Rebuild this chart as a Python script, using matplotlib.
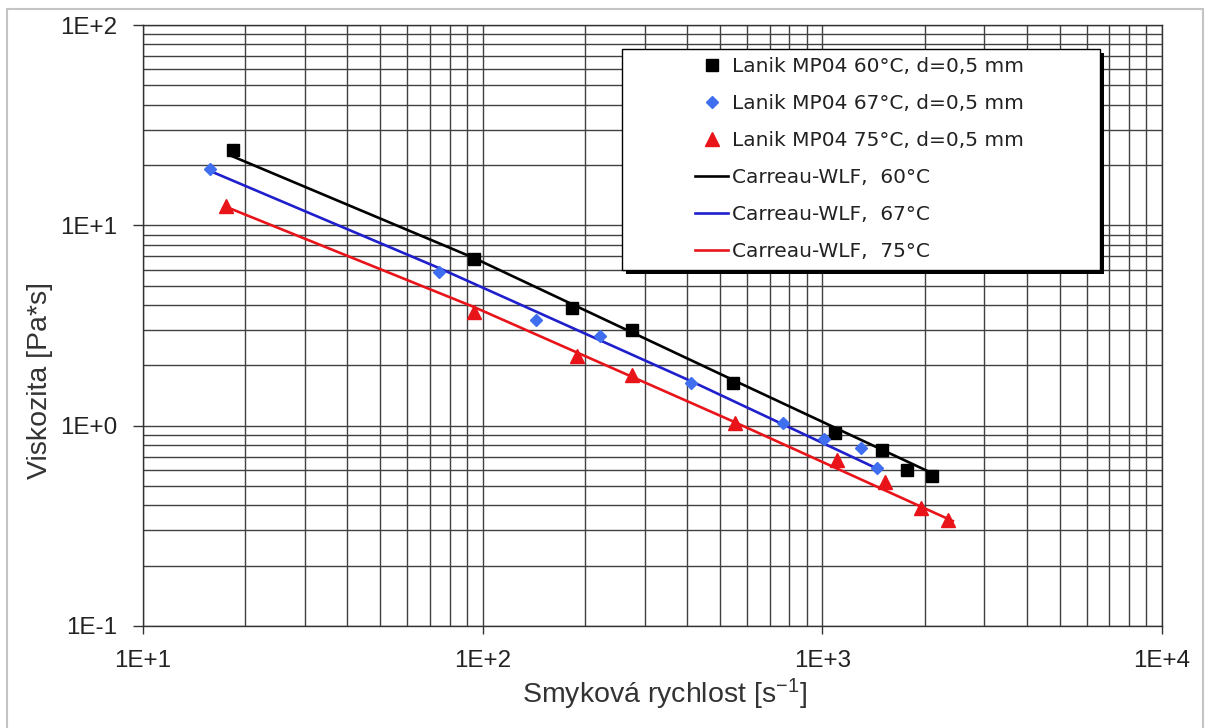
import numpy as np
import matplotlib
matplotlib.use("Agg")
import matplotlib.pyplot as plt
from matplotlib.ticker import LogLocator, FuncFormatter, NullFormatter
from matplotlib.patches import Rectangle

# measured points: shear rate [1/s], viscosity [Pa*s]
shear_60 = [18.4, 94.3, 183, 275, 546, 1089, 1498, 1774, 2102]
visc_60 = [23.8, 6.79, 3.87, 3.00, 1.63, 0.919, 0.755, 0.600, 0.560]

shear_67 = [15.8, 74.4, 144, 221, 410, 764, 1011, 1300, 1445]
visc_67 = [19.0, 5.87, 3.35, 2.80, 1.63, 1.03, 0.857, 0.771, 0.612]

shear_75 = [17.6, 94.2, 189, 276, 554, 1102, 1528, 1946, 2349]
visc_75 = [12.5, 3.71, 2.23, 1.80, 1.03, 0.673, 0.525, 0.386, 0.340]

# Carreau-WLF fit curves
fit_shear_60 = [18.0, 94.3, 546, 2074]
fit_visc_60 = [22.4, 6.87, 1.69, 0.586]
fit_shear_67 = [15.5, 74.4, 410, 1445]
fit_visc_67 = [18.9, 6.12, 1.67, 0.612]
fit_shear_75 = [17.7, 94.3, 553, 2421]
fit_visc_75 = [12.3, 3.91, 1.04, 0.334]

labels_meas = ["Lanik MP04 60°C, d=0,5 mm",
               "Lanik MP04 67°C, d=0,5 mm",
               "Lanik MP04 75°C, d=0,5 mm"]
labels_fit = ["Carreau-WLF,  60°C",
              "Carreau-WLF,  67°C",
              "Carreau-WLF,  75°C"]

plt.rcParams["font.family"] = ["Liberation Sans", "DejaVu Sans"]
plt.rcParams["mathtext.default"] = "regular"

W, H = 1206, 728
fig = plt.figure(figsize=(W / 100, H / 100), dpi=100)
ax = fig.add_axes([143 / W, 1 - 626 / H, (1162 - 143) / W, (626 - 25) / H])

ax.set_xscale("log")
ax.set_yscale("log")
ax.set_xlim(10, 1e4)
ax.set_ylim(0.1, 100)

ax.xaxis.set_major_locator(LogLocator(base=10, numticks=10))
ax.yaxis.set_major_locator(LogLocator(base=10, numticks=10))
ax.xaxis.set_minor_locator(LogLocator(base=10, subs=np.arange(2, 10), numticks=50))
ax.yaxis.set_minor_locator(LogLocator(base=10, subs=np.arange(2, 10), numticks=50))
fmt = FuncFormatter(lambda v, p: f"1E{int(round(np.log10(v))):+d}")
ax.xaxis.set_major_formatter(fmt)
ax.yaxis.set_major_formatter(fmt)
ax.xaxis.set_minor_formatter(NullFormatter())
ax.yaxis.set_minor_formatter(NullFormatter())

ax.grid(which="both", color="#404040", lw=1.0)
ax.set_axisbelow(True)
ax.tick_params(which="minor", length=0)
ax.tick_params(axis="x", which="major", length=6, width=1, color="#333333",
               labelsize=17.4, pad=11, colors="#222222")
ax.tick_params(axis="y", which="major", length=7.5, width=1, color="#333333",
               labelsize=17.4, pad=11, colors="#222222")
ax.tick_params(top=False, right=False)
for sp in ax.spines.values():
    sp.set_color("#333333")
    sp.set_linewidth(1.0)

# fit curves
ax.plot(fit_shear_60, fit_visc_60, color="black", lw=1.9, label=labels_fit[0], zorder=3)
ax.plot(fit_shear_67, fit_visc_67, color="#1f1fcc", lw=1.9, label=labels_fit[1], zorder=3)
ax.plot(fit_shear_75, fit_visc_75, color="#e8141a", lw=1.9, label=labels_fit[2], zorder=3)

# measurements
ax.plot(shear_60, visc_60, ls="none", marker="s", ms=9.2, color="black",
        label=labels_meas[0], zorder=4)
ax.plot(shear_67, visc_67, ls="none", marker="D", ms=6.3, color="#3f6fef",
        label=labels_meas[1], zorder=4)
ax.plot(shear_75, visc_75, ls="none", marker="^", ms=9.5, color="#e8141a",
        label=labels_meas[2], zorder=4)

ax.set_xlabel("Smyková rychlost [s$^{-1}$]", fontsize=20.5, color="#333333", labelpad=4)
ax.xaxis.label.set_x((665 - 143) / 1019)
ax.set_ylabel("Viskozita [Pa*s]", fontsize=20.5, color="#333333")
ax.yaxis.set_label_coords((53 - 143) / 1019, (626 - 380) / 601)

# legend box with shadow
bx0, by0, bx1, by1 = 622, 49, 1100, 270
shadow = Rectangle(((bx0 + 4) / W, 1 - (by1 + 4) / H), (bx1 - bx0) / W, (by1 - by0) / H,
                   transform=fig.transFigure, facecolor="black", edgecolor="black",
                   lw=0, clip_on=False, zorder=5)
box = Rectangle((bx0 / W, 1 - by1 / H), (bx1 - bx0) / W, (by1 - by0) / H,
                transform=fig.transFigure, facecolor="white", edgecolor="black",
                lw=1.0, clip_on=False, zorder=5.5)
ax.add_patch(shadow)
ax.add_patch(box)

handles, labels = ax.get_legend_handles_labels()
order = [3, 4, 5, 0, 1, 2]
leg = ax.legend([handles[i] for i in order], [labels[i] for i in order],
                loc="upper left", bbox_to_anchor=(695 / W, 1 - 57 / H),
                bbox_transform=fig.transFigure, frameon=False, borderpad=0,
                borderaxespad=0, handlelength=1.65, handletextpad=0.2,
                labelspacing=0.89, prop={"family": "DejaVu Sans", "size": 14.5})
leg.set_zorder(6)
for t in leg.get_texts():
    t.set_color("#222222")

# outer chart border
fig.patches.append(Rectangle((7 / W, -0.05), 1196 / W, 1.05 - 9 / H,
                             transform=fig.transFigure, fill=False,
                             edgecolor="#c4c4c4", lw=1.5))

fig.savefig("out.png", dpi=100)
